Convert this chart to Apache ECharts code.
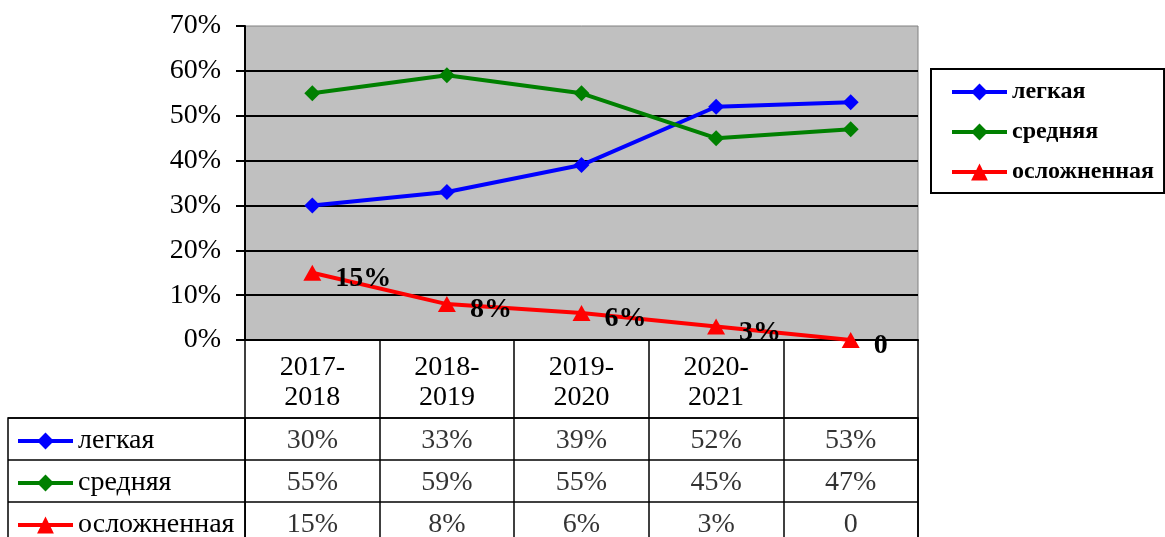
<!DOCTYPE html>
<html>
<head>
<meta charset="utf-8">
<script src="https://cdn.jsdelivr.net/npm/echarts@6/dist/echarts.min.js"></script>
<style>html,body{margin:0;padding:0;background:#fff;overflow:hidden;}#c{width:1165px;height:570px;}</style>
</head>
<body>
<div id="c"></div>
<script>
const categories = ['2017-2018', '2018-2019', '2019-2020', '2020-2021', ''];
const seriesNames = ['легкая', 'средняя', 'осложненная'];
const legkaya = [30, 33, 39, 52, 53];
const srednyaya = [55, 59, 55, 45, 47];
const oslozhnennaya = [15, 8, 6, 3, 0];
const yMin = 0, yMax = 70, yStep = 10;

const FONT = '"Liberation Serif", "Times New Roman", serif';
const fmt = v => v === 0 ? '0' : v + '%';
const rows = [legkaya, srednyaya, oslozhnennaya];
const tableData = [];
rows.forEach((arr, r) => arr.forEach((v, c) => tableData.push([c, r, v])));

const chart = echarts.init(document.getElementById('c'));
chart.setOption({
  animation: false,
  backgroundColor: '#fff',
  grid: [
    { left: 245, top: 26, width: 673, height: 314, show: true, backgroundColor: '#c0c0c0', borderColor: '#808080', borderWidth: 1 },
    { left: 245, top: 418, width: 673, height: 126, show: true, backgroundColor: '#fff', borderColor: '#000', borderWidth: 1.5 },
    { left: 8, top: 418, width: 237, height: 126, show: true, backgroundColor: '#fff', borderColor: '#000', borderWidth: 1.5 }
  ],
  xAxis: [
    { type: 'category', gridIndex: 0, data: categories, boundaryGap: true,
      axisLine: { lineStyle: { color: '#000', width: 2 } },
      axisTick: { show: true, interval: 0, length: 78, lineStyle: { color: '#000', width: 1.5 } },
      axisLabel: { interval: 0, margin: 13, fontSize: 28, lineHeight: 30, color: '#000', fontFamily: FONT,
        formatter: v => v.replace('-', '-\n') },
      splitLine: { show: false } },
    { type: 'category', gridIndex: 1, data: categories, boundaryGap: true,
      axisLine: { show: false }, axisTick: { show: false }, axisLabel: { show: false },
      splitLine: { show: true, interval: 0, lineStyle: { color: '#000', width: 1.5 } } },
    { type: 'value', gridIndex: 2, show: false }
  ],
  yAxis: [
    { type: 'value', gridIndex: 0, min: yMin, max: yMax, interval: yStep,
      axisLine: { show: true, lineStyle: { color: '#000', width: 2 } },
      axisTick: { show: true, length: 9, lineStyle: { color: '#000', width: 2 } },
      axisLabel: { margin: 24, fontSize: 28, color: '#000', fontFamily: FONT, formatter: v => v + '%' },
      splitLine: { show: true, showMinLine: false, showMaxLine: false, lineStyle: { color: '#000', width: 2 } } },
    { type: 'category', gridIndex: 1, data: seriesNames, inverse: true,
      axisLine: { show: false }, axisTick: { show: false }, axisLabel: { show: false },
      splitLine: { show: true, interval: 0, lineStyle: { color: '#000', width: 1.5 } } },
    { type: 'category', gridIndex: 2, data: seriesNames, inverse: true,
      axisLine: { show: false }, axisTick: { show: false }, axisLabel: { show: false },
      splitLine: { show: true, interval: 0, lineStyle: { color: '#000', width: 1.5 } } }
  ],
  legend: [
    { data: seriesNames, orient: 'vertical', left: 931, top: 69, padding: [3, 10, 1, 19], itemGap: 0,
      itemWidth: 55, itemHeight: 21, borderColor: '#000', borderWidth: 2, selectedMode: false,
      lineStyle: { width: 4 },
      textStyle: { fontFamily: FONT, fontWeight: 'bold', fontSize: 24, lineHeight: 40, color: '#000' } },
    { data: seriesNames, orient: 'vertical', left: 16, top: 420, padding: 0, itemGap: 0,
      itemWidth: 55, itemHeight: 21, selectedMode: false,
      lineStyle: { width: 4 },
      textStyle: { fontFamily: FONT, fontSize: 28, lineHeight: 42, color: '#000' } }
  ],
  series: [
    { name: seriesNames[0], type: 'line', xAxisIndex: 0, yAxisIndex: 0, data: legkaya,
      symbol: 'diamond', symbolSize: 16, color: '#0000ff', lineStyle: { width: 4, color: '#0000ff' }, itemStyle: { color: '#0000ff' } },
    { name: seriesNames[1], type: 'line', xAxisIndex: 0, yAxisIndex: 0, data: srednyaya,
      symbol: 'diamond', symbolSize: 16, color: '#008000', lineStyle: { width: 4, color: '#008000' }, itemStyle: { color: '#008000' } },
    { name: seriesNames[2], type: 'line', xAxisIndex: 0, yAxisIndex: 0, data: oslozhnennaya,
      symbol: 'triangle', symbolSize: [18, 16], color: '#ff0000', lineStyle: { width: 4, color: '#ff0000' }, itemStyle: { color: '#ff0000' },
      label: { show: true, position: 'right', distance: 14, offset: [0, 6], fontFamily: FONT, fontWeight: 'bold', fontSize: 28, color: '#000',
        formatter: p => fmt(p.value) } },
    { name: 'table', type: 'scatter', xAxisIndex: 1, yAxisIndex: 1, data: tableData, silent: true,
      symbolSize: 1, itemStyle: { color: 'rgba(0,0,0,0)' },
      label: { show: true, position: 'inside', offset: [0, 2], fontFamily: FONT, fontSize: 28, color: '#000',
        formatter: p => fmt(p.value[2]) } }
  ]
});
</script>
</body>
</html>
